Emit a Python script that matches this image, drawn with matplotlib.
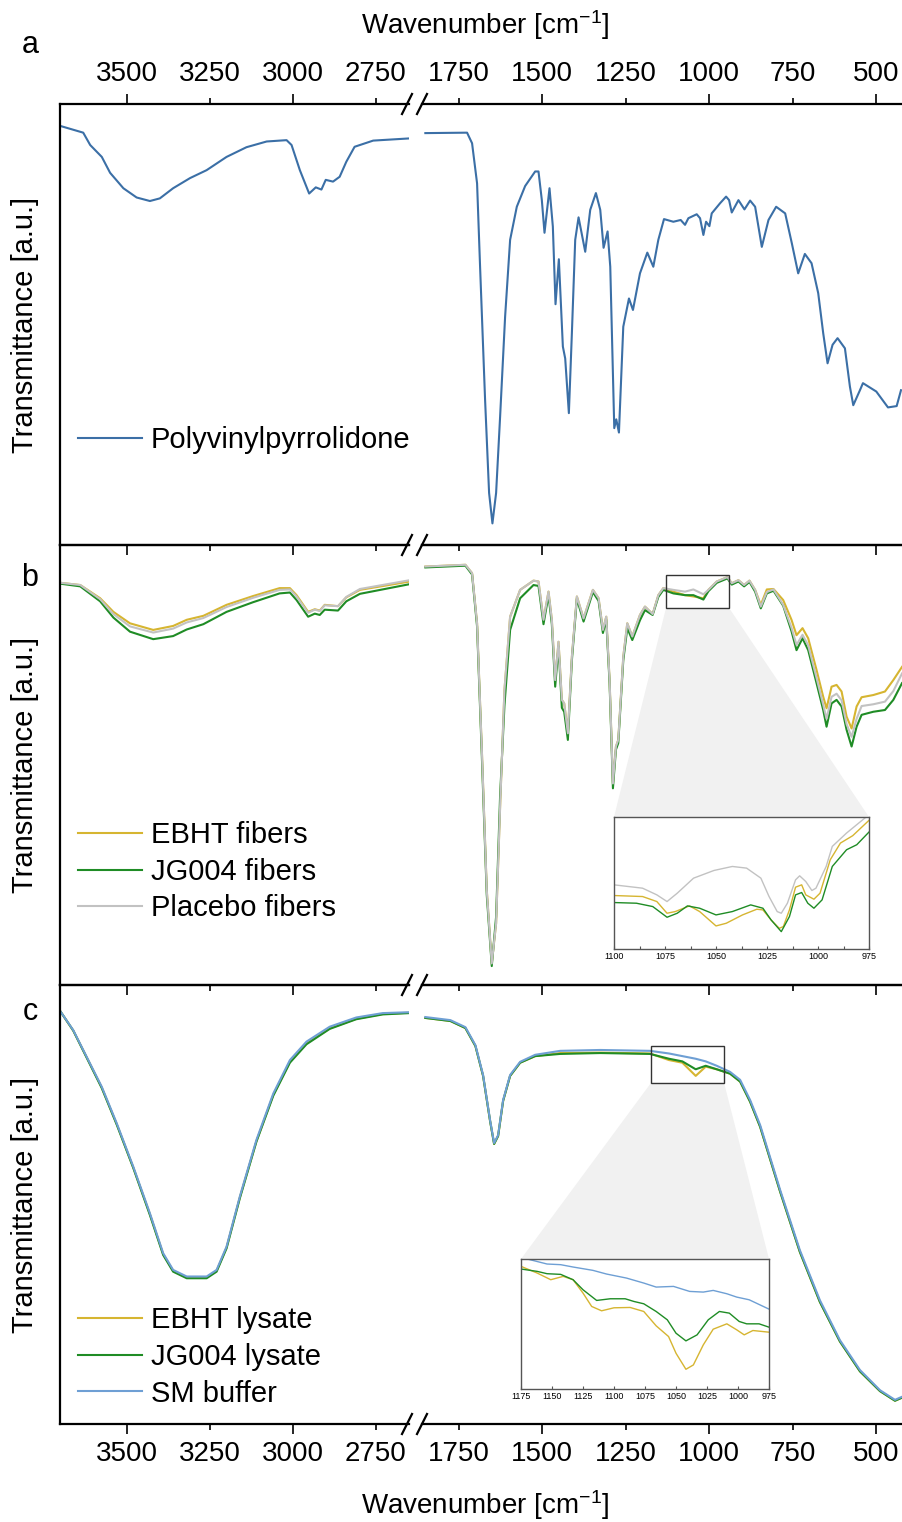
import matplotlib
matplotlib.use("Agg")
import matplotlib.pyplot as plt
from matplotlib.ticker import MultipleLocator, FormatStrFormatter
from matplotlib.patches import Rectangle, Polygon
from matplotlib.lines import Line2D

plt.rcParams['font.family'] = ['Liberation Sans', 'DejaVu Sans']
plt.rcParams['mathtext.default'] = 'regular'
NARROW = ['Liberation Sans', 'DejaVu Sans']

# ---------------- data (wavenumber in cm-1, transmittance in a.u.) ----------------
# panel a: PVP
wn_a_left = [3700, 3632, 3611, 3576, 3551, 3511, 3471, 3431, 3401, 3361, 3310, 3260, 3200, 3140,
             3079, 3019, 3004, 2979, 2951, 2931, 2914, 2901, 2879, 2859, 2839, 2814, 2758, 2648]
pvp_left = [95.0, 93.5, 90.7, 88.0, 84.4, 80.9, 78.8, 78.0, 78.6, 80.9, 83.2, 85.0, 88.0, 90.2,
            91.5, 91.8, 90.7, 85.0, 79.7, 81.1, 80.6, 82.8, 82.4, 83.5, 86.9, 90.3, 91.7, 92.2]
wn_a_right = [1850, 1725, 1710, 1695, 1686, 1671, 1659, 1649, 1638, 1626,
              1611, 1596, 1576, 1551, 1521, 1511, 1501, 1493, 1478, 1468,
              1460, 1450, 1438, 1431, 1420, 1411, 1401, 1391, 1371, 1356,
              1339, 1326, 1316, 1304, 1296, 1284, 1278, 1270, 1257, 1240,
              1228, 1207, 1185, 1167, 1152, 1135, 1107, 1085, 1072, 1062,
              1037, 1027, 1017, 1009, 999, 992, 967, 949, 940, 932,
              912, 894, 877, 862, 842, 822, 799, 772, 752, 733,
              713, 693, 673, 658, 645, 630, 615, 593, 578, 568,
              548, 539, 499, 464, 438, 425]
pvp_right = [93.4, 93.5, 91.1, 82.0, 63.1, 32.9, 11.8, 4.9, 11.8, 29.1,
             51.8, 69.2, 76.7, 81.4, 84.7, 84.7, 78.2, 70.8, 80.9, 72.2,
             54.6, 64.8, 45.0, 42.3, 29.9, 48.0, 69.2, 74.3, 66.5, 76.0,
             79.8, 76.0, 67.4, 71.1, 63.1, 26.5, 28.5, 25.5, 49.5, 55.9,
             53.3, 61.6, 66.3, 63.1, 69.2, 73.9, 73.3, 73.7, 72.6, 74.1,
             75.0, 74.1, 70.3, 73.3, 72.3, 75.2, 77.5, 79.0, 78.2, 75.4,
             78.2, 76.1, 78.1, 76.7, 67.6, 73.7, 76.7, 75.2, 68.4, 61.6,
             66.0, 63.9, 57.1, 48.0, 41.2, 45.4, 46.9, 44.6, 35.9, 31.7,
             35.1, 36.7, 34.8, 31.2, 31.5, 35.1]

# panel b: fibers
wn_b_left = [3700, 3641, 3581, 3541, 3491, 3421, 3361, 3320, 3270, 3200, 3120,
             3040, 3009, 2989, 2954, 2934, 2919, 2904, 2864, 2839, 2798, 2648]
ebht_f_left = [91.4, 90.9, 87.9, 84.8, 82.2, 80.7, 81.6, 83.0, 83.9, 86.4, 88.4,
               90.2, 90.2, 88.6, 84.8, 85.4, 85.1, 86.4, 86.1, 88.1, 89.8, 91.7]
jg_f_left = [91.2, 90.6, 87.2, 83.5, 80.3, 78.6, 79.3, 80.8, 82.0, 84.8, 87.0,
             89.0, 89.2, 87.5, 83.7, 84.4, 84.1, 85.3, 85.1, 87.2, 88.9, 91.1]
plc_f_left = [91.4, 90.9, 87.7, 84.3, 81.5, 80.1, 81.0, 82.4, 83.4, 85.9, 88.0,
              89.8, 89.9, 88.3, 84.6, 85.3, 85.0, 86.3, 86.1, 88.2, 90.0, 92.0]
wn_b_right = [1850, 1730, 1710, 1695, 1680, 1666, 1651, 1638, 1626, 1613,
              1596, 1566, 1526, 1511, 1496, 1481, 1471, 1461, 1451, 1441,
              1434, 1423, 1411, 1396, 1376, 1348, 1331, 1318, 1308, 1298,
              1288, 1279, 1272, 1257, 1245, 1230, 1207, 1192, 1169, 1152,
              1137, 1107, 1072, 1047, 1017, 1002, 977, 945, 932, 912,
              895, 879, 862, 845, 827, 807, 778, 753, 738, 720,
              703, 678, 658, 648, 633, 618, 603, 588, 573, 558,
              543, 508, 473, 448, 422]
ebht_f_right = [95.1, 95.5, 93.6, 82.2, 51.9, 21.6, 4.9, 14.0, 40.5, 67.0,
                83.7, 89.8, 91.9, 91.7, 83.0, 89.4, 83.0, 69.3, 78.0, 64.8,
                64.0, 57.2, 74.6, 88.3, 83.3, 89.8, 87.9, 80.7, 83.7, 69.3,
                45.8, 54.2, 55.7, 74.6, 82.2, 79.2, 84.1, 86.0, 84.3, 88.6,
                90.2, 89.4, 88.6, 88.3, 87.9, 89.8, 91.7, 92.7, 91.3, 92.0,
                90.9, 91.9, 89.8, 86.4, 89.9, 90.0, 87.5, 83.0, 79.5, 81.1,
                78.8, 71.6, 65.5, 62.9, 67.8, 68.2, 66.7, 61.0, 58.3, 63.3,
                65.4, 65.9, 66.7, 69.3, 72.3]
jg_f_right = [94.9, 95.3, 93.3, 81.5, 50.5, 20.5, 4.3, 15.5, 43.0, 63.5,
              80.7, 87.9, 90.9, 90.7, 82.0, 88.6, 82.0, 67.8, 77.0, 63.0,
              62.1, 55.7, 73.8, 87.8, 82.6, 89.3, 87.3, 80.0, 83.0, 68.5,
              44.7, 53.5, 55.0, 73.8, 81.1, 78.4, 82.9, 85.2, 84.1, 88.2,
              89.8, 89.0, 88.6, 88.6, 87.6, 89.5, 91.4, 92.4, 91.0, 91.7,
              90.6, 91.6, 89.4, 85.6, 89.0, 89.6, 86.2, 80.4, 76.1, 78.8,
              76.1, 68.6, 62.5, 58.7, 64.0, 64.8, 63.3, 58.0, 54.2, 58.7,
              61.4, 62.1, 62.5, 64.8, 68.6]
plc_f_right = [95.1, 95.5, 93.6, 82.2, 51.9, 21.6, 4.9, 14.0, 40.5, 67.0,
               83.7, 89.8, 91.9, 91.7, 83.0, 89.4, 83.0, 69.3, 78.0, 64.8,
               64.0, 57.2, 74.6, 88.3, 83.3, 89.8, 87.9, 80.7, 83.7, 69.3,
               45.8, 54.2, 55.7, 74.6, 82.2, 79.2, 84.1, 86.0, 84.3, 88.6,
               90.2, 89.8, 89.4, 89.9, 88.8, 89.8, 91.7, 92.7, 91.3, 92.0,
               90.9, 91.9, 89.8, 86.0, 89.3, 89.9, 86.4, 81.2, 77.3, 79.6,
               77.2, 69.8, 63.7, 60.5, 65.5, 66.2, 64.7, 59.3, 56.4, 60.5,
               63.4, 63.8, 64.4, 66.8, 70.8]

# panel b inset (1100-975 cm-1)
ib_wn_ebht = [1100, 1086, 1079, 1074, 1070, 1063, 1058, 1050, 1045, 1037, 1030, 1027, 1023,
              1019, 1017, 1014, 1011, 1008, 1006, 1002, 999, 994, 989, 983, 975]
ib_ebht = [160, 157, 142, 107, 112, 129, 112, 69, 77, 102, 119, 117, 87,
           62, 67, 117, 185, 192, 162, 149, 167, 267, 317, 339, 385]
ib_wn_jg = [1100, 1089, 1081, 1074, 1069, 1064, 1058, 1050, 1042, 1033, 1027, 1023,
            1018, 1014, 1011, 1008, 1005, 1002, 998, 993, 986, 981, 975]
ib_jg = [139, 137, 127, 95, 107, 129, 122, 102, 112, 132, 122, 87,
         52, 97, 162, 169, 137, 122, 147, 247, 297, 312, 350]
ib_wn_plc = [1100, 1086, 1079, 1074, 1069, 1061, 1051, 1042, 1035, 1028, 1024, 1020,
             1018, 1015, 1011, 1009, 1006, 1003, 1001, 996, 993, 986, 980, 976]
ib_plc = [192, 182, 162, 142, 167, 212, 235, 247, 242, 212, 157, 112,
          107, 137, 207, 219, 202, 175, 182, 247, 307, 347, 377, 397]

# panel c: lysates
wn_c_left = [3700, 3662, 3622, 3576, 3531, 3481, 3431, 3391, 3361, 3320, 3260,
             3230, 3200, 3160, 3110, 3059, 3009, 2959, 2889, 2809, 2729, 2648]
ebht_l_left = [93.9, 89.6, 83.6, 76.6, 68.3, 58.4, 47.8, 38.7, 34.9, 33.4, 33.4,
               34.9, 40.2, 51.6, 64.4, 75.0, 82.5, 86.7, 90.1, 92.3, 93.4, 93.7]
jg_l_left = [93.9, 89.6, 83.5, 76.5, 68.2, 58.3, 47.6, 38.5, 34.7, 33.2, 33.2,
             34.7, 40.0, 51.4, 64.3, 74.8, 82.3, 86.5, 90.0, 92.2, 93.3, 93.6]
sm_left = [93.9, 89.7, 83.7, 76.8, 68.5, 58.6, 48.0, 38.9, 35.1, 33.6, 33.6,
           35.1, 40.4, 51.8, 64.7, 75.3, 82.9, 87.1, 90.5, 92.6, 93.6, 93.8]
wn_c_right = [1850, 1775, 1730, 1700, 1677, 1656, 1644, 1632, 1617, 1596,
              1566, 1521, 1446, 1326, 1177, 1120, 1080, 1040, 1010, 977,
              937, 907, 877, 847, 787, 728, 668, 608, 548, 488, 443, 422]
ebht_l_right = [92.5, 91.8, 90.2, 86.1, 79.3, 69.0, 63.8, 65.6, 73.6, 79.3,
                82.3, 83.8, 84.5, 84.6, 84.4, 82.9, 82.3, 79.3, 81.4, 80.8,
                79.8, 78.0, 73.4, 67.7, 52.9, 39.2, 27.8, 18.8, 12.0, 7.5, 5.3, 6.0]
jg_l_right = [92.5, 91.8, 90.2, 86.1, 79.3, 69.0, 63.8, 65.6, 73.6, 79.3,
              82.3, 83.8, 84.3, 84.5, 84.3, 83.2, 82.6, 80.8, 81.6, 80.8,
              79.8, 78.0, 73.4, 67.7, 52.9, 39.2, 27.8, 18.8, 12.0, 7.5, 5.3, 6.0]
sm_right = [92.7, 92.0, 90.4, 86.3, 79.5, 69.2, 64.0, 65.8, 73.8, 79.5,
            82.5, 84.1, 85.0, 85.2, 85.0, 84.4, 83.8, 83.2, 82.6, 81.6,
            80.2, 78.4, 73.8, 68.1, 53.3, 39.6, 28.2, 19.1, 12.3, 7.7, 5.5, 6.2]

# panel c inset (1175-975 cm-1)
ic_wn_ebht = [1175, 1162, 1151, 1141, 1133, 1125, 1118, 1110, 1100, 1087, 1076, 1066,
              1056, 1050, 1042, 1036, 1028, 1020, 1009, 1001, 995, 988, 975]
ic_ebht = [367, 347, 327, 337, 327, 287, 247, 234, 243, 244, 232, 189,
           157, 107, 59, 72, 132, 179, 195, 177, 162, 175, 170]
ic_wn_jg = [1175, 1162, 1154, 1143, 1133, 1125, 1114, 1103, 1091, 1084, 1076, 1066,
            1057, 1050, 1042, 1033, 1024, 1015, 1007, 999, 993, 983, 975]
ic_jg = [359, 352, 345, 343, 327, 297, 265, 270, 270, 262, 255, 232,
         207, 167, 144, 162, 207, 232, 227, 202, 195, 195, 185]
ic_wn_sm = [1175, 1170, 1154, 1143, 1133, 1117, 1106, 1090, 1076, 1066, 1052, 1039,
            1028, 1020, 1009, 1001, 991, 975]
ic_sm = [392, 389, 374, 372, 365, 355, 344, 332, 317, 305, 307, 292,
         290, 295, 285, 275, 267, 239]

# ---------------- style ----------------
C_PVP = '#3b6fa6'
C_EBHT = '#d6b531'
C_JG = '#1f8c25'
C_PLC = '#c2c2c2'
C_SM = '#6e9fd4'

W, H = 902, 1522
fig = plt.figure(figsize=(W / 100, H / 100), dpi=100)


def fx(px):
    return px / W


def fy(py):
    return 1 - py / H


def add_panel(top, bottom, first, last):
    h = (bottom - top) / H
    axl = fig.add_axes([fx(60), fy(bottom), fx(409) - fx(60), h])
    axr = fig.add_axes([fx(422), fy(bottom), 1 - fx(422), h])
    for ax, lim in ((axl, (3702, 2650)), (axr, (1860, 422))):
        ax.set_xlim(lim)
        ax.set_ylim(0, 100)
        ax.set_facecolor('none')
        ax.set_yticks([])
        ax.xaxis.set_major_locator(MultipleLocator(500))
        ax.xaxis.set_minor_locator(MultipleLocator(250))
        ax.xaxis.set_major_formatter(FormatStrFormatter('%d'))
        ax.xaxis.set_minor_formatter(FormatStrFormatter('%d'))
        ax.tick_params(which='both', direction='out', width=1.2, colors='black',
                       top=first, labeltop=first, bottom=True, labelbottom=last,
                       labelsize=20, labelfontfamily=NARROW)
        ax.tick_params(which='major', length=7.5, pad=5)
        ax.tick_params(which='minor', length=4.5, pad=8)
        for s in ax.spines.values():
            s.set_linewidth(1.6)
        ax.spines['right'].set_visible(False)
    axr.spines['left'].set_visible(False)
    return axl, axr


def add_inset(px_box, xlim, ylim, major, minor):
    x0, y0, x1, y1 = px_box
    ins = fig.add_axes([fx(x0), fy(y1), fx(x1) - fx(x0), (y1 - y0) / H])
    ins.set_xlim(xlim)
    ins.set_ylim(ylim)
    ins.set_yticks([])
    ins.xaxis.set_major_locator(MultipleLocator(major))
    if minor:
        ins.xaxis.set_minor_locator(MultipleLocator(minor))
    ins.tick_params(which='both', direction='in', length=2.5, width=0.8,
                    color='#555555', labelsize=6.5, pad=2)
    for s in ins.spines.values():
        s.set_linewidth(1.0)
        s.set_edgecolor('#555555')
    return ins


def connect(ax, box_wn, box_val, ins):
    rect = Rectangle((box_wn[0], box_val[0]), box_wn[1] - box_wn[0], box_val[1] - box_val[0],
                     fill=False, edgecolor='#333333', lw=1.0, zorder=5)
    ax.add_patch(rect)
    inv = fig.transFigure.inverted()
    p1 = inv.transform(ax.transData.transform((box_wn[0], box_val[0])))
    p2 = inv.transform(ax.transData.transform((box_wn[1], box_val[0])))
    p3 = inv.transform(ins.transAxes.transform((1, 1)))
    p4 = inv.transform(ins.transAxes.transform((0, 1)))
    poly = Polygon([p1, p2, p3, p4], closed=True, transform=fig.transFigure,
                   facecolor='#f1f1f1', edgecolor='none', zorder=-1)
    fig.add_artist(poly)


LW = 1.5
leg_kw = dict(loc='upper left', bbox_transform=fig.transFigure, frameon=False, fontsize=21,
              handlelength=2.2, handletextpad=0.3, borderpad=0, borderaxespad=0,
              labelspacing=0.3)

# ---------------- panel a ----------------
axl, axr = add_panel(104, 545, True, False)
la, = axl.plot(wn_a_left, pvp_left, color=C_PVP, lw=LW, label='Polyvinylpyrrolidone')
axr.plot(wn_a_right, pvp_right, color=C_PVP, lw=LW)
axl.legend(handles=[la], bbox_to_anchor=(fx(78), fy(426)), **leg_kw)

# ---------------- panel b ----------------
axl, axr = add_panel(545, 985, False, False)
h1, = axl.plot(wn_b_left, ebht_f_left, color=C_EBHT, lw=LW, label='EBHT fibers')
h2, = axl.plot(wn_b_left, jg_f_left, color=C_JG, lw=LW, label='JG004 fibers')
h3, = axl.plot(wn_b_left, plc_f_left, color=C_PLC, lw=LW, label='Placebo fibers')
axr.plot(wn_b_right, ebht_f_right, color=C_EBHT, lw=LW)
axr.plot(wn_b_right, jg_f_right, color=C_JG, lw=LW)
axr.plot(wn_b_right, plc_f_right, color=C_PLC, lw=LW)
axl.legend(handles=[h1, h2, h3], bbox_to_anchor=(fx(78), fy(821)), **leg_kw)

ins = add_inset((614, 817, 869, 949), (1100, 975), (0, 395), 25, 12.5)
ins.plot(ib_wn_ebht, ib_ebht, color=C_EBHT, lw=1.0)
ins.plot(ib_wn_jg, ib_jg, color=C_JG, lw=1.0)
ins.plot(ib_wn_plc, ib_plc, color=C_PLC, lw=1.0)
connect(axr, (1129, 940), (85.7, 93.2), ins)

# ---------------- panel c ----------------
axl, axr = add_panel(985, 1424, False, True)
g1, = axl.plot(wn_c_left, ebht_l_left, color=C_EBHT, lw=LW, label='EBHT lysate')
g2, = axl.plot(wn_c_left, jg_l_left, color=C_JG, lw=LW, label='JG004 lysate')
g3, = axl.plot(wn_c_left, sm_left, color=C_SM, lw=LW, label='SM buffer')
axr.plot(wn_c_right, ebht_l_right, color=C_EBHT, lw=LW)
axr.plot(wn_c_right, jg_l_right, color=C_JG, lw=LW)
axr.plot(wn_c_right, sm_right, color=C_SM, lw=LW)
axl.legend(handles=[g1, g2, g3], bbox_to_anchor=(fx(78), fy(1306)), **leg_kw)

ins = add_inset((521, 1259, 769, 1389), (1175, 975), (0, 389), 25, None)
ins.plot(ic_wn_ebht, ic_ebht, color=C_EBHT, lw=1.0)
ins.plot(ic_wn_jg, ic_jg, color=C_JG, lw=1.0)
ins.plot(ic_wn_sm, ic_sm, color=C_SM, lw=1.0)
connect(axr, (1174, 955), (77.7, 86.1), ins)

# ---------------- break marks, labels ----------------
for ys in (104, 545, 985, 1424):
    for xc in (407, 422):
        fig.add_artist(Line2D([fx(xc - 5), fx(xc + 5)], [fy(ys + 10), fy(ys - 10)],
                              transform=fig.transFigure, color='black', lw=1.6))

xlabel = 'Wavenumber [cm$^{\\mathregular{-1}}$]'
fig.text(fx(485), fy(25), xlabel, ha='center', va='center', fontsize=20, family=NARROW)
fig.text(fx(485), fy(1505), xlabel, ha='center', va='center', fontsize=20, family=NARROW)

for letter, yc in (('a', 45), ('b', 578), ('c', 1012)):
    fig.text(fx(30), fy(yc), letter, ha='center', va='center', fontsize=22, family=NARROW)

for top, bottom in ((104, 545), (545, 985), (985, 1424)):
    fig.text(fx(25), fy((top + bottom) / 2), 'Transmittance [a.u.]', rotation=90,
             ha='center', va='center', fontsize=21)

fig.savefig('out.png', dpi=100)
